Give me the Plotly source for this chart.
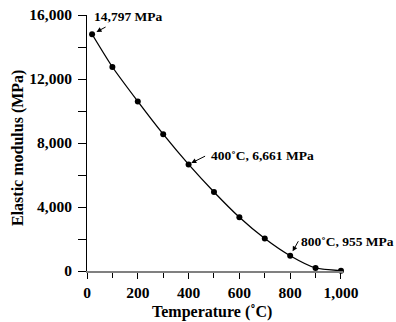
import plotly.graph_objects as go

# Elastic modulus of the material versus temperature
temperature_c = [20, 100, 200, 300, 400, 500, 600, 700, 800, 900, 1000]
modulus_mpa = [14797, 12750, 10600, 8550, 6661, 4940, 3360, 2030, 955, 190, 20]

x_ticks = [0, 200, 400, 600, 800, 1000]
x_tick_labels = ["0", "200", "400", "600", "800", "1,000"]
y_ticks = [0, 4000, 8000, 12000, 16000]
y_tick_labels = ["0", "4,000", "8,000", "12,000", "16,000"]

# Labelled points: (index into the series, label text)
callouts = [
    (0, "14,797 MPa"),
    (4, "400˚C, 6,661 MPa"),
    (8, "800˚C, 955 MPa"),
]

FONT = "Liberation Serif"


def bold(s):
    return f"<b>{s}</b>"


fig = go.Figure()
fig.add_trace(go.Scatter(
    x=temperature_c, y=modulus_mpa,
    mode="lines+markers",
    line=dict(color="black", width=1.3, shape="spline", smoothing=0.6),
    marker=dict(color="black", size=6),
    cliponaxis=False,
    showlegend=False,
))

# arrow tail offsets (px) and label placement for each callout
arrow_offsets = [(15, -8), (18, -9), (9, -16)]
label_pos = [(21, 15937), (480, 7250), (833, 1831)]
standoffs = [5, 3, 5]

for (idx, text), (ax, ay), (lx, ly), so in zip(callouts, arrow_offsets, label_pos, standoffs):
    fig.add_annotation(
        x=temperature_c[idx], y=modulus_mpa[idx],
        ax=ax, ay=ay, axref="pixel", ayref="pixel",
        text="", showarrow=True,
        arrowhead=2, arrowsize=1, arrowwidth=1, arrowcolor="black",
        standoff=so,
    )
    fig.add_annotation(
        x=lx, y=ly, text=bold(text), showarrow=False,
        xanchor="left", yanchor="middle",
        font=dict(family=FONT, size=13.5, color="black"),
    )

# axis titles
fig.add_annotation(
    xref="paper", yref="paper", x=0.49, y=-0.159,
    text=bold("Temperature (˚C)"), showarrow=False,
    xanchor="center", yanchor="middle",
    font=dict(family=FONT, size=16, color="black"),
)
fig.add_annotation(
    xref="paper", yref="paper", x=-0.27, y=0.48,
    text=bold("Elastic modulus (MPa)"), showarrow=False, textangle=-90,
    xanchor="center", yanchor="middle",
    font=dict(family=FONT, size=16, color="black"),
)

fig.update_layout(
    width=396, height=322,
    margin=dict(l=87, r=53, t=15, b=51),
    paper_bgcolor="white", plot_bgcolor="white",
    font=dict(family=FONT, color="black"),
)

fig.update_xaxes(
    range=[0, 1008], automargin=False,
    tickmode="array", tickvals=x_ticks, ticktext=[bold(t) for t in x_tick_labels],
    ticks="outside", ticklen=6, tickwidth=1, tickcolor="black",
    minor=dict(dtick=100, ticks="outside", ticklen=5, tickcolor="black"),
    showline=True, linecolor="#808080", linewidth=2,
    showgrid=False, zeroline=False,
    tickfont=dict(family=FONT, size=15.5),
)
fig.update_yaxes(
    range=[0, 16000], automargin=False,
    tickmode="array", tickvals=y_ticks, ticktext=[bold(t) for t in y_tick_labels],
    ticks="outside", ticklen=8, tickwidth=1, tickcolor="black",
    minor=dict(dtick=2000, ticks="outside", ticklen=8, tickcolor="black"),
    showline=True, linecolor="black", linewidth=1,
    showgrid=False, zeroline=False,
    tickfont=dict(family=FONT, size=15.5),
    ticklabelstandoff=3,
)

fig.write_html("out.html")
